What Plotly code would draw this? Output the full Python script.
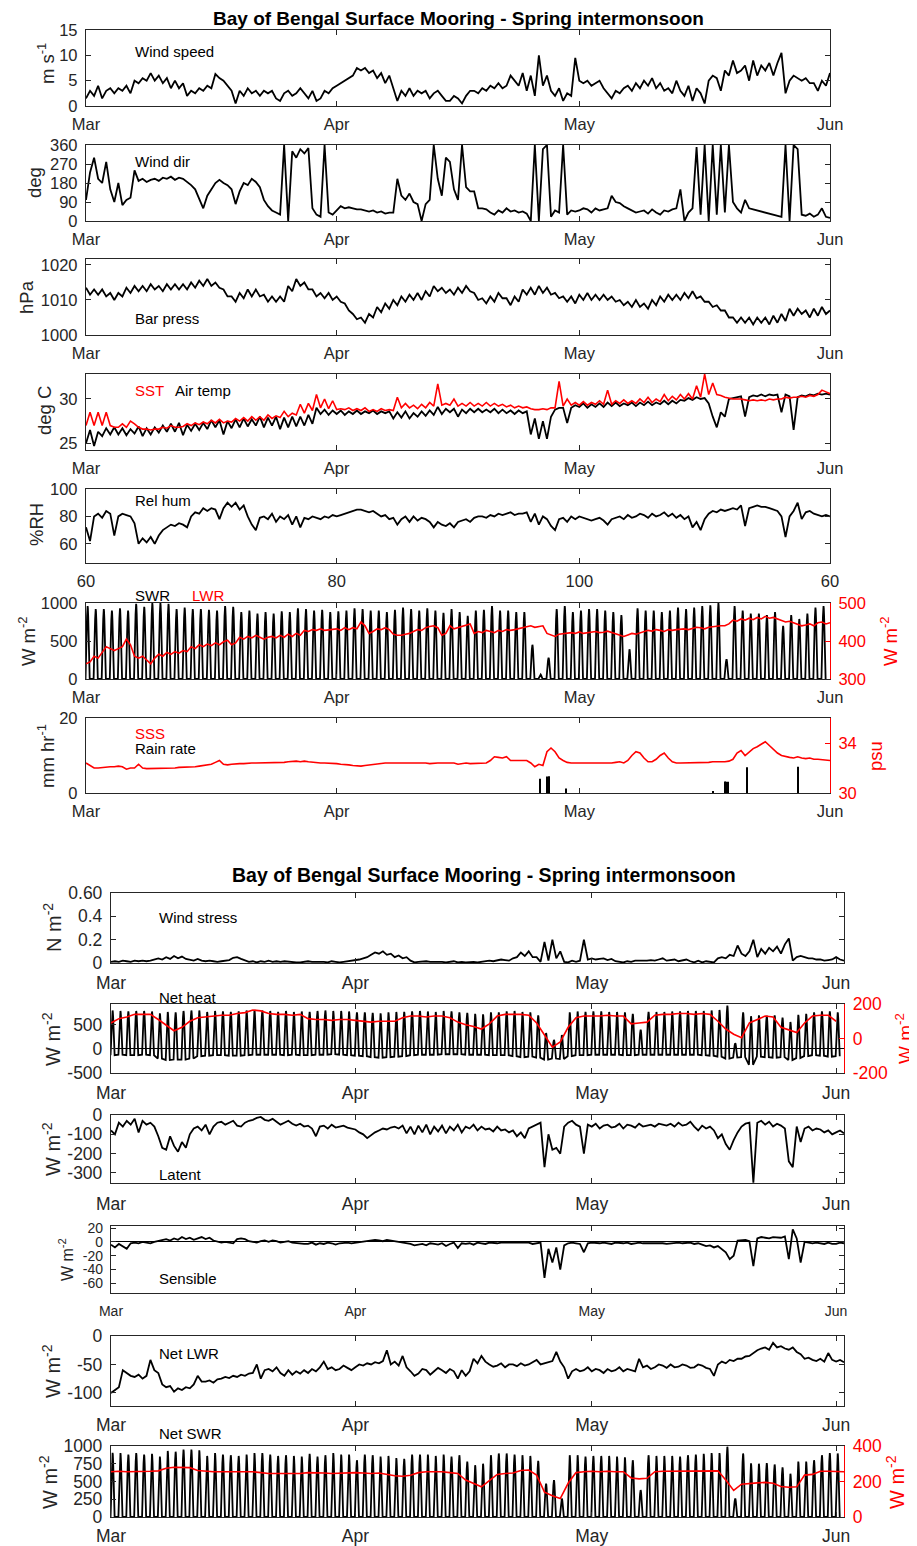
import plotly.graph_objects as go

# page places the figure 8 px from the top-left corner (default body margin)
OFF = 8
PAGE_W, PAGE_H = 917, 1546
W, H = PAGE_W - OFF, PAGE_H - OFF
FONT = "Liberation Sans, Arial, Helvetica, sans-serif"
AX = "#262626"
RED = "#ff0000"

# ---------------- DATA ----------------
MONTH_TICKS = [0, 31, 61, 92]
MONTH_TEXT = ["Mar", "Apr", "May", "Jun"]
DOY_TEXT = ["60", "80", "100", "60"]

# half-day samples starting 1 Mar 00:00 (top figure)
WSPD = [1.5,3, 2,4, 1.5,3, 3.5,2.5, 3.5,3,
        4,2.5, 5,4.5, 5.5,5, 6.5,5, 6,4.5,
        5.5,3.5, 5,3.5, 4.5,2, 3,2.5, 3.5,3,
        4,3.5, 6.3,5.5, 5,4, 3,0.5, 3,2,
        3.5,2.5, 3,2, 3,2.5, 3,1.5, 1,2.5,
        3,2, 2.5,3.5, 2.5,1.5, 3,1, 1.5,3,
        2.5,3.5, 4,4.5, 5,5.5, 6,7.5, 7,7.5,
        6.5,7, 5.5,6.5, 4.5,6, 3.5,1, 3,2,
        3.5,2, 3,2.5, 3,1.5, 2.5,3, 2,1,
        1,2, 1.5,0.5, 2,3, 3,2.5, 3.5,3,
        4,3.5, 4.5,3.5, 4,6, 5,4, 6.5,3,
        6,2, 10,4, 6,3, 2,3.5, 1,2.5,
        2,9.5, 5,4.5, 5,4, 4.5,5, 3.5,2.5,
        1.5,3, 2.5,3.5, 4,3, 4.5,3.5, 5,4,
        5.5,3.5, 4.5,3, 3.5,2.5, 5,3, 2,4,
        1,3.5, 2.5,0.5, 5,6, 5.5,3, 7,6,
        9,6.5, 7,8, 5,9, 6,8, 7,8.5,
        6,8.5, 10.5,2.5, 5,6, 5.5,5, 5.5,4.5,
        4.5,3, 5,4, 6.5]

WDIR = [100,230, 300,200, 180,280, 150,90, 180,75,
        100,110, 240,190, 200,185, 195,200, 190,205,
        200,210, 195,205, 200,185, 170,150, 100,60,
        120,150, 180,195, 180,170, 150,80, 140,180,
        170,200, 185,160, 100,70, 50,40, 30,360,
        0,330, 300,340, 320,345, 60,30, 20,360,
        40,30, 50,70, 60,65, 60,55, 55,50,
        45,50, 40,45, 35,40, 40,200, 120,100,
        130,90, 80,0, 80,100, 360,200, 120,300,
        280,150, 100,360, 160,140, 140,60, 60,55,
        40,30, 50,40, 60,45, 50,40, 45,35,
        0,360, 0,340, 360,20, 50,40, 360,30,
        50,45, 50,60, 55,40, 60,50, 55,60,
        120,90, 85,70, 60,50, 40,45, 50,35,
        55,40, 30,50, 45,55, 60,150, 0,40,
        60,350, 30,360, 0,360, 30,360, 40,360,
        90,60, 40,100, 60,55, 50,45, 40,35,
        30,25, 20,360, 0,360, 340,30, 25,35,
        20,30, 60,20, 15]

BARO = [1013.5,1011.5, 1013,1011.5, 1013,1011, 1012,1010, 1012,1011,
        1013.5,1012, 1014,1012.5, 1014,1012.5, 1014.5,1013, 1014,1012.5,
        1014.5,1013, 1014.5,1013, 1014.5,1013, 1015,1013.5, 1015.5,1014,
        1016,1014, 1015,1013.5, 1013,1011, 1011,1009.5, 1012,1010.5,
        1013,1011, 1013,1011, 1011.5,1009.5, 1011,1009.5, 1011,1009.5,
        1014,1012.5, 1016,1014, 1015,1013, 1013,1011, 1012,1010.5,
        1012,1010, 1011,1009.5, 1009,1007, 1006,1004.5, 1005,1003.5,
        1006,1005, 1008,1006.5, 1009,1007.5, 1010,1008.5, 1011,1009.5,
        1011.5,1010, 1012,1010, 1012.5,1011, 1014,1012.5, 1013.5,1012,
        1013,1011.5, 1013.5,1012, 1014,1012.5, 1012,1010, 1010.5,1009,
        1011,1009.5, 1012,1010.5, 1010.5,1008.5, 1011,1009.5, 1013,1011.5,
        1013.5,1011.5, 1014,1012, 1013.5,1011.5, 1012,1010.5, 1011,1009.5,
        1011,1009, 1011.5,1010, 1012,1010, 1011.5,1010, 1011.5,1010,
        1011,1009.5, 1010,1008.5, 1009.5,1008, 1010,1008, 1009,1007.5,
        1010,1008.5, 1011,1009.5, 1011.5,1010, 1011.5,1010, 1012,1010.5,
        1012.5,1010.5, 1011,1009.5, 1009.5,1008, 1008.5,1007, 1007,1005,
        1005,1003.5, 1005,1003.5, 1005,1003, 1005,1003.5, 1005,1003,
        1005.5,1003.5, 1006,1004, 1007.5,1005.5, 1007.5,1006, 1007,1005,
        1007.5,1005.5, 1008,1006, 1007]

SST = [27,28.5, 27,28.5, 27,28.5, 27,26.8, 26.8,27.2,
       26.8,27.5, 27.2,26.8, 26.6,26.6, 26.5,26.6, 26.6,26.8,
       26.7,27, 26.8,26.8, 26.9,27.2, 27,27.3, 27.1,27.4,
       27.2,27.6, 27.3,27.7, 27.3,27.5, 27.4,27.8, 27.5,27.9,
       27.5,28, 27.6,28, 27.6,28.2, 27.8,28.1, 27.9,28.6,
       28,28.4, 28.2,29.4, 28.4,29.5, 28.7,30.5, 29,30,
       28.9,29.8, 28.8,28.9, 28.8,29, 28.7,28.9, 28.7,29,
       28.6,28.8, 28.6,28.9, 28.7,28.8, 28.7,30.2, 29,29.5,
       29,29.3, 28.9,29.4, 29,29.6, 29.2,31.7, 29.3,29.5,
       29.3,30, 29.2,29.5, 29.2,29.6, 29.2,29.5, 29.2,29.6,
       29.2,29.5, 29.2,29.4, 29.1,29.3, 29,29.2, 29,29.1,
       28.9,28.8, 28.8,28.9, 28.8,29, 29,32, 29.2,30,
       29.3,29.6, 29.3,29.7, 29.3,29.6, 29.4,29.8, 29.4,31,
       29.4,29.8, 29.5,29.9, 29.5,29.8, 29.5,30, 29.6,30.2,
       29.6,30, 29.7,30.5, 29.8,30.3, 29.9,30.5, 30,30.6,
       30,31.5, 30.2,32.8, 30.5,31.8, 30.5,30.4, 30.2,30.1,
       30,30, 30,29.9, 29.8,29.9, 29.8,29.9, 29.8,30,
       29.9,30, 30,30.2, 30.1,30.2, 30.2,30.3, 30.2,30.4,
       30.3,30.5, 31,30.8, 30.6]

AIRT = [25,26.5, 24.7,26.3, 25.8,26.7, 26,26.8, 26,26.7,
        25.9,26.6, 26.1,26.9, 25.8,26.7, 26,26.8, 26.2,27,
        26.3,27.2, 26.3,27.3, 25.9,27.1, 26.4,27.2, 26.5,27.3,
        26.6,27.6, 26.8,27.6, 26,27.5, 26.7,27.7, 26.8,27.8,
        26.9,27.7, 27,28, 26.8,27.9, 27,28, 26.6,27.9,
        26.8,28, 26.9,28, 27,28.2, 27.2,29, 28.3,28.8,
        28.2,28.7, 28.3,28.7, 28.2,28.6, 28.3,28.7, 28.3,28.6,
        28.4,28.7, 28.3,28.6, 28.4,28.6, 27.8,28.5, 27.9,28.6,
        27.8,28.4, 28,28.6, 28.1,28.7, 28.2,29.1, 28.3,28.9,
        28.5,28.9, 28,28.8, 28.4,28.9, 28.5,28.9, 28.5,28.8,
        28.5,28.9, 28.4,28.8, 28.4,28.7, 28.3,28.7, 28.4,28.6,
        26,27.8, 25.5,27.5, 25.5,28, 28.8,29, 29,27.3,
        29,29.3, 29.1,29.5, 29,29.4, 29.1,29.5, 29.1,29.6,
        29.2,29.6, 29.2,29.5, 29.3,29.6, 29.2,29.6, 29.3,29.7,
        29.3,29.6, 29.4,29.8, 29.4,29.8, 29.5,29.9, 29.8,30.1,
        29.9,30.2, 30,30.1, 29.5,28, 26.8,28.5, 28,30,
        30.1,30.2, 30.3,28, 30.2,30.4, 30.3,30.5, 30.3,30.5,
        30.4,30.5, 28.5,30.5, 30.3,26.5, 30.2,30.4, 30.3,30.5,
        30.4,30.6, 30.5,30.6, 30.5]

RH = [72,62, 80,82, 79,84, 82,66, 80,82,
      81,80, 75,60, 64,61, 65,60, 66,70,
      72,74, 73,75, 74,72, 80,83, 82,86,
      84,86, 85,78, 86,90, 87,90, 85,88,
      80,74, 70,79, 80,78, 82,76, 80,78,
      81,74, 80,72, 79,78, 80,79, 78,80,
      79,81, 80,81, 82,83, 84,85, 85,84,
      83,84, 82,80, 81,78, 79,74, 78,80,
      76,80, 77,79, 78,76, 72,76, 74,73,
      75,72, 76,77, 78,76, 79,80, 80,79,
      81,80, 82,81, 82,83, 81,82, 82,83,
      76,82, 74,80, 78,73, 70,78, 79,76,
      80,78, 80,79, 78,77, 78,79, 77,74,
      78,79, 80,78, 81,79, 80,82, 81,79,
      82,80, 81,83, 80,82, 79,81, 78,80,
      72,76, 70,78, 82,84, 83,85, 84,85,
      86,85, 88,73, 86,87, 88,87, 87,86,
      85,84, 80,65, 80,84, 90,78, 83,84,
      82,81, 80,81, 80]

# daily noon peaks of incoming shortwave (W m-2)
SWR_PEAK = [960,920,920,900,930,900,990,950,1000,1000,
            990,920,940,920,920,910,900,960,950,880,
            900,860,880,860,890,880,930,920,900,910,
            880,890,900,930,920,900,900,880,910,940,
            920,900,930,900,870,920,880,830,900,910,
            960,900,900,880,880,450,60,280,920,960,
            880,900,920,920,900,880,840,390,930,900,
            900,880,900,940,920,940,960,970,1000,260,
            960,900,860,860,840,880,700,840,790,860,
            940,960]

LWR = [340,345, 360,355, 370,385, 380,375, 380,385,
       405,390, 360,355, 360,350, 340,355, 365,360,
       370,365, 372,368, 375,372, 385,380, 390,385,
       392,388, 395,390, 398,402, 390,395, 410,405,
       412,408, 415,410, 405,410, 412,408, 415,410,
       418,412, 420,415, 428,425, 430,428, 432,428,
       430,432, 432,428, 435,430, 435,432, 450,440,
       420,425, 432,430, 435,430, 418,415, 415,418,
       420,425, 430,428, 435,438, 440,435, 415,420,
       440,432, 435,438, 440,445, 420,425, 422,428,
       425,422, 428,425, 430,428, 430,432, 435,438,
       440,436, 438,440, 420,415, 412,418, 420,422,
       422,420, 424,420, 422,425, 425,422, 423,426,
       422,420, 415,412, 416,420, 418,422, 425,428,
       426,430, 428,425, 430,428, 430,432, 432,430,
       433,436, 435,432, 436,438, 438,440, 440,445,
       455,452, 458,455, 460,456, 462,458, 465,460,
       462,458, 455,450, 452,448, 445,440, 442,445,
       440,448, 450,445, 448]

SSS = [32.4,32.2, 32.0,32.0, 32.05,32.1, 32.1,32.1, 32.15,32.1,
       31.9,32.0, 32.0,32.3, 32.0,31.95, 31.95,32.0, 32.0,32.0,
       32.0,32.0, 32.0,32.05, 32.05,32.05, 32.1,32.1, 32.15,32.2,
       32.2,32.3, 32.45,32.6, 32.3,32.25, 32.3,32.35, 32.35,32.35,
       32.4,32.4, 32.4,32.4, 32.4,32.45, 32.45,32.4, 32.4,32.45,
       32.5,32.55, 32.55,32.5, 32.55,32.5, 32.45,32.4, 32.4,32.4,
       32.4,32.35, 32.35,32.3, 32.3,32.25, 32.2,32.15, 32.15,32.2,
       32.25,32.3, 32.35,32.35, 32.4,32.4, 32.4,32.4, 32.45,32.4,
       32.4,32.4, 32.45,32.4, 32.4,32.35, 32.4,32.4, 32.4,32.4,
       32.35,32.4, 32.3,32.35, 32.4,32.35, 32.35,32.4, 32.4,32.4,
       32.6,32.9, 32.85,32.8, 32.9,32.6, 32.6,32.6, 32.55,32.6,
       32.4,32.1, 32.3,32.2, 33.3,33.6, 33.3,32.8, 32.6,32.45,
       32.4,32.4, 32.4,32.35, 32.35,32.35, 32.35,32.4, 32.35,32.35,
       32.4,32.45, 32.5,32.4, 32.6,33.0, 33.3,33.2, 32.8,32.5,
       32.5,32.7, 33.0,33.2, 32.8,32.5, 32.4,32.4, 32.4,32.4,
       32.4,32.45, 32.45,32.4, 32.45,32.5, 32.5,32.45, 32.5,32.55,
       32.7,33.2, 33.4,33.0, 33.3,33.55, 33.7,33.9, 34.1,33.8,
       33.5,33.2, 33.0,32.9, 32.85,32.8, 32.9,32.8, 32.75,32.8,
       32.7,32.7, 32.65,32.6, 32.6]

RAIN_DAY = [56.1, 57.0, 57.2, 59.4, 77.5, 79.0, 79.2, 79.4, 81.7, 88.0]
RAIN_MM = [3.8, 4.4, 4.5, 1.2, 0.4, 3.1, 3.0, 3.0, 6.9, 7.0]

# bottom figure (half-day samples, through 2 Jun)
TAU = [0.01,0.015, 0.01,0.02, 0.015,0.01, 0.02,0.015, 0.02,0.015,
       0.02,0.03, 0.04,0.03, 0.05,0.035, 0.06,0.04, 0.055,0.035,
       0.03,0.02, 0.035,0.02, 0.015,0.02, 0.015,0.01, 0.015,0.02,
       0.025,0.045, 0.05,0.035, 0.02,0.01, 0.015,0.005, 0.015,0.01,
       0.02,0.01, 0.015,0.01, 0.015,0.01, 0.01,0.005, 0.005,0.01,
       0.015,0.01, 0.01,0.015, 0.01,0.005, 0.015,0.01, 0.005,0.01,
       0.015,0.02, 0.02,0.03, 0.04,0.05, 0.07,0.09, 0.08,0.1,
       0.07,0.08, 0.05,0.065, 0.04,0.05, 0.02,0.005, 0.01,0.015,
       0.015,0.01, 0.01,0.015, 0.01,0.005, 0.01,0.015, 0.005,0.01,
       0.005,0.01, 0.01,0.005, 0.01,0.015, 0.02,0.015, 0.02,0.03,
       0.025,0.02, 0.04,0.05, 0.09,0.06, 0.1,0.05, 0.05,0.01,
       0.18,0.02, 0.2,0.04, 0.1,0.01, 0.005,0.02, 0.01,0.02,
       0.2,0.03, 0.04,0.03, 0.035,0.04, 0.025,0.035, 0.015,0.01,
       0.005,0.015, 0.01,0.02, 0.02,0.015, 0.02,0.025, 0.02,0.03,
       0.04,0.02, 0.025,0.03, 0.015,0.02, 0.03,0.015, 0.005,0.02,
       0.005,0.015, 0.01,0.005, 0.04,0.05, 0.04,0.07, 0.06,0.15,
       0.08,0.06, 0.1,0.2, 0.05,0.12, 0.08,0.13, 0.1,0.14,
       0.08,0.16, 0.21,0.02, 0.05,0.06, 0.05,0.04, 0.04,0.03,
       0.03,0.02, 0.025,0.03, 0.05,0.03, 0.02]

NETHEAT_PEAK = [800,790,780,790,790,780,740,770,760,790,
                800,800,770,790,780,770,780,800,810,800,
                790,770,790,770,780,770,790,800,790,790,
                780,760,760,750,740,760,770,770,780,790,
                780,770,790,780,760,750,730,720,760,760,
                780,790,770,760,700,330,190,290,760,780,
                770,780,780,770,770,760,730,400,770,770,
                770,780,780,790,790,790,800,810,900,120,
                760,680,700,690,700,650,560,710,730,760,
                780,780,760]
NETHEAT_NIGHT = [-130,-120,-130,-130,-120,-130,-200,-230,-220,-220,
                 -200,-150,-140,-130,-130,-140,-140,-130,-120,-120,
                 -120,-120,-130,-120,-130,-130,-120,-120,-110,-120,
                 -130,-140,-150,-170,-180,-170,-160,-150,-130,-120,
                 -120,-120,-110,-110,-110,-120,-120,-120,-130,-130,
                 -130,-150,-170,-160,-180,-220,-200,-210,-150,-130,
                 -130,-120,-120,-120,-120,-130,-130,-120,-120,-120,
                 -120,-120,-120,-120,-120,-130,-140,-160,-200,-180,
                 -170,-330,-160,-170,-180,-170,-230,-190,-150,-130,
                 -140,-160,-150]
NETHEAT_DAILY = [90,115,125,140,140,140,110,80,45,65,
                 100,120,125,130,135,135,145,150,165,160,
                 145,140,140,135,140,115,110,110,105,110,
                 110,105,100,95,100,100,100,120,130,130,
                 125,130,130,120,95,80,70,55,85,130,
                 140,140,140,135,90,20,-50,-20,65,120,
                 130,130,130,135,130,130,85,90,95,135,
                 140,140,145,145,140,145,140,100,55,25,
                 5,90,110,130,125,65,50,35,90,130,
                 135,135,100]

LATENT = [-80,-100, -40,-60, -30,-50, -20,-90, -30,-50,
          -40,-60, -110,-170, -180,-110, -160,-190, -140,-170,
          -100,-70, -60,-80, -50,-100, -60,-40, -35,-50,
          -40,-30, -55,-60, -40,-30, -25,-15, -10,-25,
          -30,-20, -35,-50, -40,-30, -45,-55, -45,-60,
          -55,-70, -110,-60, -55,-70, -50,-65, -60,-55,
          -65,-70, -75,-90, -100,-120, -105,-90, -80,-70,
          -75,-65, -60,-70, -55,-95, -60,-100, -55,-90,
          -50,-100, -60,-85, -55,-95, -60,-80, -50,-90,
          -60,-70, -50,-80, -60,-75, -70,-85, -60,-80,
          -75,-90, -80,-110, -90,-120, -70,-60, -50,-40,
          -270,-100, -180,-170, -200,-60, -40,-30, -50,-60,
          -200,-50, -60,-45, -70,-55, -50,-65, -60,-45,
          -70,-50, -55,-65, -45,-60, -55,-50, -60,-45,
          -50,-55, -45,-60, -40,-55, -50,-35, -60,-80,
          -55,-70, -60,-80, -120,-100, -150,-180, -130,-90,
          -60,-45, -40,-350, -40,-30, -50,-35, -60,-45,
          -55,-70, -240,-270, -60,-140, -70,-60, -80,-70,
          -75,-90, -80,-100, -90,-80, -95]

SENSIBLE = [-4,-8, -3,-6, -10,-2, -1,-2, 0,-1,
            -2,0, 1,3, 4,2, 5,3, 7,4,
            6,3, 5,7, 4,6, 2,0, -1,0,
            -1,-2, 4,5, 4,1, 0,-1, 1,2,
            0,2, 1,-1, 0,1, -1,-2, -2,-3,
            -3,-1, -4,-2, -3,-1, -2,-4, -2,-1,
            -1,-2, -1,0, 1,2, 2,3, 2,1,
            3,2, 2,1, 0,-2, -3,-5, -4,-3,
            -5,-2, -3,-4, -2,-6, -3,-1, -9,-2,
            -3,-2, -4,-1, -2,-3, -1,-2, -2,-1,
            -1,-2, -2,-1, -1,-2, -1,-3, -2,-1,
            -52,-10, -30,-8, -40,-5, -2,-1, -2,-3,
            -15,-2, -1,-2, -2,-1, -2,-3, -1,-2,
            -2,-1, -3,-2, -1,-2, -2,-1, -1,-2,
            -2,-3, -2,-1, -1,-2, -2,-1, -3,-2,
            -4,-6, -5,-8, -6,-10, -15,-25, -20,2,
            2,3, 1,-35, 5,7, 6,5, 7,6,
            6,8, -25,18, 5,-30, 0,-1, -2,-1,
            -2,-3, -1,-3, -3,-1, -2]

NET_LWR = [-100,-95, -90,-60, -65,-70, -72,-68, -75,-70,
           -42,-60, -65,-85, -90,-88, -98,-92, -95,-90,
           -92,-85, -70,-80, -80,-78, -82,-76, -75,-72,
           -74,-70, -72,-68, -70,-66, -65,-50, -75,-60,
           -58,-62, -55,-65, -70,-60, -68,-62, -66,-60,
           -65,-58, -62,-55, -45,-58, -55,-60, -58,-52,
           -56,-60, -55,-50, -52,-48, -50,-46, -48,-44,
           -25,-50, -45,-52, -35,-55, -62,-70, -66,-58,
           -60,-68, -62,-56, -60,-65, -58,-62, -75,-60,
           -70,-62, -40,-48, -35,-45, -50,-54, -52,-48,
           -55,-50, -50,-53, -48,-52, -50,-46, -42,-50,
           -48,-45, -44,-28, -45,-55, -75,-62, -58,-62,
           -60,-55, -62,-58, -60,-65, -58,-62, -60,-55,
           -62,-58, -60,-62, -40,-55, -52,-58, -55,-50,
           -52,-56, -50,-55, -54,-50, -52,-56, -55,-50,
           -52,-56, -58,-70, -50,-45, -48,-42, -44,-40,
           -40,-36, -35,-30, -25,-22, -20,-24, -12,-20,
           -18,-22, -24,-20, -28,-32, -40,-38, -42,-44,
           -40,-45, -30,-42, -45,-42, -46]

NET_SWR_PEAK = [905,900,880,900,880,890,850,930,920,950,
                950,940,860,900,880,870,860,880,900,900,
                880,860,870,860,850,890,850,870,900,880,
                880,800,880,870,850,860,830,820,880,880,
                880,860,880,850,870,780,730,750,870,895,
                895,880,870,860,790,470,520,260,870,870,
                850,860,860,860,850,840,800,380,870,860,
                860,860,850,870,880,890,900,900,990,260,
                895,755,750,760,740,700,610,780,780,800,
                870,900,895]
NET_SWR_DAILY = [255,258,255,255,258,258,260,275,280,280,
                 278,262,258,255,255,255,258,255,255,250,
                 245,245,245,242,245,250,250,248,245,248,
                 248,250,248,245,248,240,232,230,235,250,
                 255,255,255,250,245,208,190,170,205,240,
                 245,248,262,265,236,140,120,104,190,250,
                 255,258,255,258,255,255,220,215,218,255,
                 258,258,260,258,258,260,262,260,208,150,
                 185,190,192,195,190,172,168,170,236,240,
                 258,258,258,255]

# shape of the daytime cycle (fraction of day from local noon, relative height)
DAY_OFFSETS = [-0.26, -0.22, -0.17, -0.12, -0.07, -0.03, 0.0, 0.03, 0.07, 0.12, 0.17, 0.22, 0.26]
DAY_SHAPE = [0.0, 0.12, 0.38, 0.64, 0.86, 0.97, 1.0, 0.97, 0.86, 0.64, 0.38, 0.12, 0.0]
NOON = 0.2


def halfday(vals):
    return [i * 0.5 for i in range(len(vals))]


def daily(vals):
    return list(range(len(vals)))


def diurnal(peaks, nights=None):
    xs, ys = [], []
    for d, p in enumerate(peaks):
        n = 0 if nights is None else nights[d]
        for o, s in zip(DAY_OFFSETS, DAY_SHAPE):
            xs.append(d + NOON + o)
            ys.append(n + (p - n) * s)
    return xs, ys


# ---------------- LAYOUT (positions given in page pixels) ----------------
TOP_X = (86, 830)
BOT_X = (111, 844)


def xdom(b):
    return [(b[0] - OFF) / W, (b[1] - OFF) / W]


def ydom(top, bot):
    return [1 - (bot - OFF) / H, 1 - (top - OFF) / H]


layout = dict(width=W, height=H, margin=dict(l=0, r=0, t=0, b=0, pad=0), autosize=False,
              template="none",
              paper_bgcolor="white", plot_bgcolor="white", showlegend=False,
              font=dict(family=FONT, color=AX), annotations=[])


def name(kind, i):
    return kind + ("" if i == 1 else str(i))


def add_panel(i, xb, yb, xr, xtext, yr, yvals, ytext=None, fs=16.5, xfs=None,
              mirror_y=True, zeroline=False, xstand=3):
    xfs = xfs or fs
    layout[name("xaxis", i)] = dict(
        domain=xdom(xb), range=xr, anchor=name("y", i), automargin=False,
        tickmode="array", tickvals=MONTH_TICKS, ticktext=xtext,
        ticks="inside", ticklen=5, tickwidth=1, tickcolor=AX,
        showline=True, linecolor=AX, linewidth=1.3, mirror="ticks",
        showgrid=False, zeroline=False, ticklabelstandoff=xstand,
        tickfont=dict(family=FONT, size=xfs, color=AX))
    layout[name("yaxis", i)] = dict(
        domain=ydom(*yb), range=yr, anchor=name("x", i), automargin=False,
        tickmode="array", tickvals=yvals,
        ticktext=ytext if ytext else [str(v) for v in yvals],
        ticks="inside", ticklen=5, tickwidth=1, tickcolor=AX,
        showline=True, linecolor=AX, linewidth=1.3,
        mirror="ticks" if mirror_y else False,
        showgrid=False, zeroline=zeroline, zerolinecolor="black", zerolinewidth=1.4,
        ticklabelstandoff=4, tickfont=dict(family=FONT, size=fs, color=AX))


def add_right(j, base, yr, yvals, fs):
    layout[name("yaxis", j)] = dict(
        overlaying=name("y", base), side="right", anchor=name("x", base), range=yr,
        automargin=False,
        tickmode="array", tickvals=yvals, ticktext=[str(v) for v in yvals],
        ticks="inside", ticklen=5, tickwidth=1, tickcolor=RED,
        showline=True, linecolor=RED, linewidth=1.3,
        showgrid=False, zeroline=False, ticklabelstandoff=4,
        tickfont=dict(family=FONT, size=fs, color=RED))


TFS, BFS = 16.5, 17.5
add_panel(1, TOP_X, (30, 106), [0, 92], MONTH_TEXT, [0, 15], [0, 5, 10, 15], fs=TFS)
add_panel(2, TOP_X, (145, 221), [0, 92], MONTH_TEXT, [0, 360], [0, 90, 180, 270, 360], fs=TFS)
add_panel(3, TOP_X, (259, 335), [0, 92], MONTH_TEXT, [1000, 1021.7], [1000, 1010, 1020], fs=TFS)
add_panel(4, TOP_X, (374, 450), [0, 92], MONTH_TEXT, [24.24, 32.82], [25, 30], fs=TFS)
add_panel(5, TOP_X, (489, 563), [0, 92], DOY_TEXT, [46, 100], [60, 80, 100], fs=TFS)
add_panel(6, TOP_X, (603, 679), [0, 92], MONTH_TEXT, [0, 1000], [0, 500, 1000], fs=TFS, mirror_y=False)
add_panel(7, TOP_X, (718, 793), [0, 92], MONTH_TEXT, [0, 20], [0, 20], fs=TFS, mirror_y=False)
add_panel(8, BOT_X, (893, 963), [0, 93], MONTH_TEXT, [0, 0.6], [0, 0.2, 0.4, 0.6],
          ["0", "0.2", "0.4", "0.60"], fs=BFS, xstand=4)
add_panel(9, BOT_X, (1004, 1073), [0, 93], MONTH_TEXT, [-500, 935], [-500, 0, 500], fs=BFS,
          mirror_y=False, zeroline=True, xstand=4)
add_panel(10, BOT_X, (1115, 1183), [0, 93], MONTH_TEXT, [-352, 0], [-300, -200, -100, 0], fs=BFS, xstand=5)
add_panel(11, BOT_X, (1226, 1293), [0, 93], MONTH_TEXT, [-74, 23], [-60, -40, -20, 0, 20], fs=14,
          zeroline=True, xstand=5)
add_panel(12, BOT_X, (1336, 1406), [0, 93], MONTH_TEXT, [-123, 0], [-100, -50, 0], fs=BFS, xstand=3)
add_panel(13, BOT_X, (1446, 1517), [0, 93], MONTH_TEXT, [0, 1000], [0, 250, 500, 750, 1000], fs=BFS,
          mirror_y=False, xstand=3)
add_right(14, 6, [300, 500], [300, 400, 500], TFS)
add_right(15, 7, [30, 36], [30, 34], TFS)
add_right(16, 9, [-200, 200], [-200, 0, 200], BFS)
add_right(17, 13, [0, 400], [0, 200, 400], BFS)

# ---------------- TRACES ----------------
traces = []
LW = 1.8


def line(x, y, i, color="black", width=LW):
    traces.append(go.Scatter(x=x, y=y, mode="lines", xaxis=name("x", i), yaxis=name("y", i),
                             line=dict(color=color, width=width), hoverinfo="skip"))


line(halfday(WSPD), WSPD, 1)
line(halfday(WDIR), WDIR, 2)
line(halfday(BARO), BARO, 3)
line(halfday(AIRT), AIRT, 4)
line(halfday(SST), SST, 4, RED, 1.6)
line(halfday(RH), RH, 5)
sx, sy = diurnal(SWR_PEAK)
line(sx, sy, 6)
traces.append(go.Scatter(x=halfday(LWR), y=LWR, mode="lines", xaxis="x6", yaxis="y14",
                         line=dict(color=RED, width=1.6), hoverinfo="skip"))
traces.append(go.Bar(x=RAIN_DAY, y=RAIN_MM, width=0.14, xaxis="x7", yaxis="y7",
                     marker=dict(color="black", line=dict(width=0)), hoverinfo="skip"))
traces.append(go.Scatter(x=halfday(SSS), y=SSS, mode="lines", xaxis="x7", yaxis="y15",
                         line=dict(color=RED, width=1.6), hoverinfo="skip"))

line(halfday(TAU), TAU, 8)
hx, hy = diurnal(NETHEAT_PEAK, NETHEAT_NIGHT)
line(hx, hy, 9)
traces.append(go.Scatter(x=daily(NETHEAT_DAILY), y=NETHEAT_DAILY, mode="lines", xaxis="x9", yaxis="y16",
                         line=dict(color=RED, width=1.6), hoverinfo="skip"))
line(halfday(LATENT), LATENT, 10)
line(halfday(SENSIBLE), SENSIBLE, 11)
line(halfday(NET_LWR), NET_LWR, 12)
nx, ny = diurnal(NET_SWR_PEAK)
line(nx, ny, 13)
traces.append(go.Scatter(x=daily(NET_SWR_DAILY), y=NET_SWR_DAILY, mode="lines", xaxis="x13", yaxis="y17",
                         line=dict(color=RED, width=1.6), hoverinfo="skip"))

# ---------------- TEXT ----------------
ann = layout["annotations"]


def text(s, px, py, size=15, color="black", xanchor="left", angle=0, bold=False):
    ann.append(dict(text=("<b>%s</b>" % s) if bold else s,
                    x=(px - OFF) / W, y=1 - (py - OFF) / H,
                    xref="paper", yref="paper", xanchor=xanchor, yanchor="middle",
                    showarrow=False, textangle=angle, borderpad=0,
                    font=dict(family=FONT, size=size, color=color)))


TITLE = "Bay of Bengal Surface Mooring - Spring intermonsoon"
text(TITLE, 458, 18, 19, xanchor="center", bold=True)
text(TITLE, 484, 875, 19.5, xanchor="center", bold=True)

YT, YB = 18.5, 20
for s, px, py, sz, col in [
    ("m s<sup>-1</sup>", 46, 64, YT, AX), ("deg", 34, 183, YT, AX), ("hPa", 27, 297, YT, AX),
    ("deg C", 45, 411, YT, AX), ("%RH", 36, 525, YT, AX), ("W m<sup>-2</sup>", 27, 641, YT, AX),
    ("mm hr<sup>-1</sup>", 46, 756, YT, AX), ("W m<sup>-2</sup>", 889, 641, YT, RED),
    ("psu", 876, 756, YT, RED),
    ("N m<sup>-2</sup>", 52, 928, YB, AX), ("W m<sup>-2</sup>", 51, 1039, YB, AX),
    ("W m<sup>-2</sup>", 904, 1039, 19, RED), ("W m<sup>-2</sup>", 51, 1149, YB, AX),
    ("W m<sup>-2</sup>", 66, 1260, 16, AX), ("W m<sup>-2</sup>", 51, 1371, YB, AX),
    ("W m<sup>-2</sup>", 48, 1482, YB, AX), ("W m<sup>-2</sup>", 895, 1482, YB, RED)]:
    text(s, px, py, sz, col, xanchor="center", angle=-90)

for s, px, py, col in [
    ("Wind speed", 134, 51, "black"), ("Wind dir", 134, 162, "black"),
    ("Bar press", 134, 318, "black"), ("SST", 134, 391, RED), ("Air temp", 174, 391, "black"),
    ("Rel hum", 134, 501, "black"), ("SWR", 134, 595, "black"), ("LWR", 191, 595, RED),
    ("SSS", 134, 733, RED), ("Rain rate", 134, 748, "black"),
    ("Wind stress", 158, 917, "black"), ("Net heat", 158, 997, "black"),
    ("Latent", 158, 1174, "black"), ("Sensible", 158, 1278, "black"),
    ("Net LWR", 158, 1353, "black"), ("Net SWR", 158, 1433, "black")]:
    text(s, px, py, 15, col)

fig = go.Figure(data=traces, layout=layout)
fig.write_html("out.html")
